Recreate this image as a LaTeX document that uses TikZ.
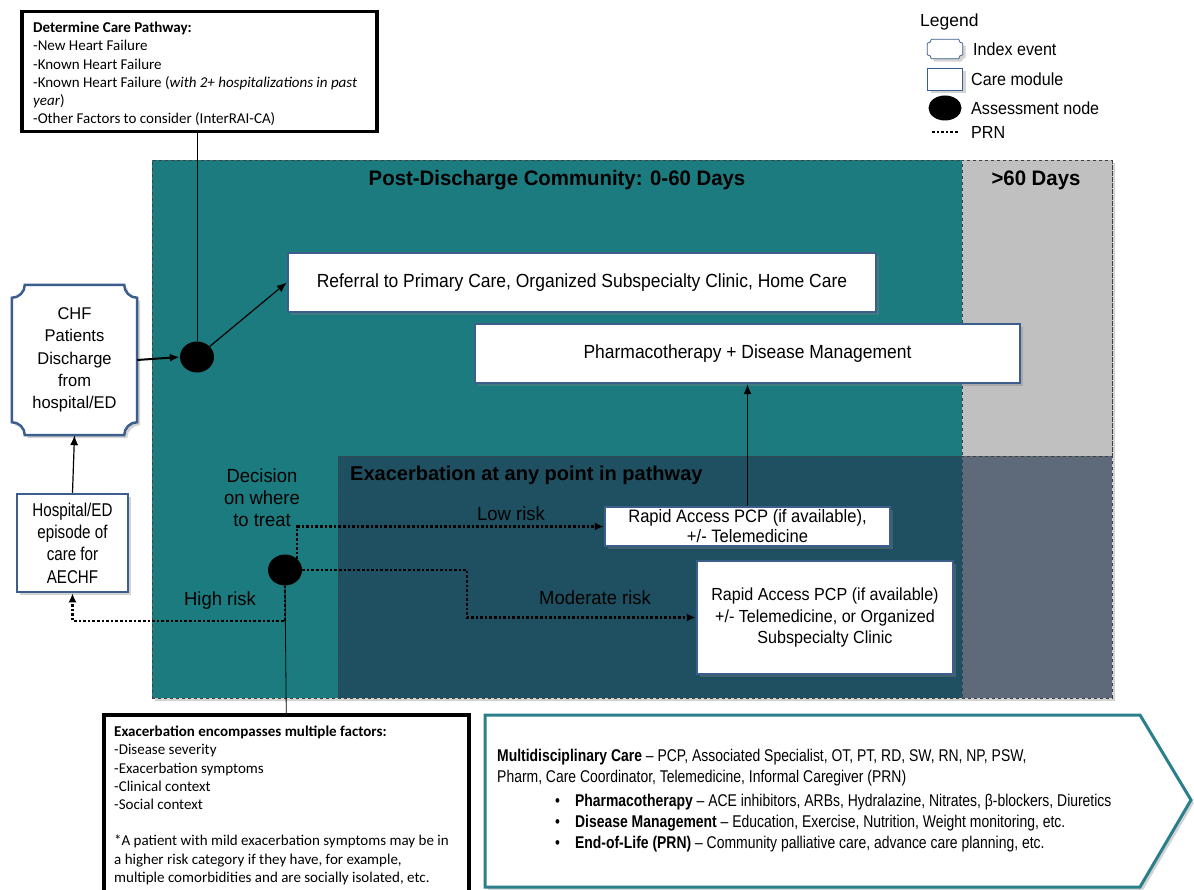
\documentclass[tikz,border=0pt]{standalone}
\usepackage{fontspec}
\setmainfont{Liberation Sans}
\newfontfamily\nA{Liberation Sans}[FakeStretch=0.82]
\newfontfamily\nB{Liberation Sans}[FakeStretch=0.92]
\newfontfamily\nC{Liberation Sans}[FakeStretch=0.97]
\newfontfamily\calfont{Carlito}
\usetikzlibrary{shadows,calc,arrows.meta,shapes.geometric}
\definecolor{tealbg}{HTML}{1B7B7F}
\definecolor{graybg}{HTML}{C0C0C0}
\definecolor{exbg}{HTML}{1E5061}
\definecolor{slatebg}{HTML}{5E6A7A}
\definecolor{boxblue}{HTML}{3B5E8C}
\definecolor{arrowteal}{HTML}{2A7F8A}
\newcommand{\myplaque}[3]{%
  \draw[#3] ([xshift=#2]#1.north west) -- ([xshift=-#2]#1.north east)
    .. controls ([xshift=-#2,yshift=-0.55*#2]#1.north east) and ([xshift=-0.55*#2,yshift=-#2]#1.north east) .. ([yshift=-#2]#1.north east)
    -- ([yshift=#2]#1.south east)
    .. controls ([xshift=-0.55*#2,yshift=#2]#1.south east) and ([xshift=-#2,yshift=0.55*#2]#1.south east) .. ([xshift=-#2]#1.south east)
    -- ([xshift=#2]#1.south west)
    .. controls ([xshift=#2,yshift=0.55*#2]#1.south west) and ([xshift=0.55*#2,yshift=#2]#1.south west) .. ([yshift=#2]#1.south west)
    -- ([yshift=-#2]#1.north west)
    .. controls ([xshift=0.55*#2,yshift=-#2]#1.north west) and ([xshift=#2,yshift=-0.55*#2]#1.north west) .. cycle;}
\begin{document}
\begin{tikzpicture}[x=1pt,y=-1pt,
  region/.style={draw=black!75, dashed, line width=0.7pt, anchor=north west, inner sep=0pt},
  softshadow/.style={drop shadow={shadow xshift=3pt,shadow yshift=-3pt,opacity=0.35}},
  module/.style={draw=boxblue, line width=2.5pt, fill=white, softshadow, align=center,
     font=\nB\fontsize{19}{22}\selectfont, inner sep=0pt},
  notebox/.style={draw=black, line width=3.5pt, fill=white, anchor=north west, inner sep=0pt},
  notetext/.style={anchor=north west, align=left, inner sep=0pt, font=\calfont\fontsize{15}{18.2}\selectfont},
  assess/.style={ellipse, fill=black, inner sep=0pt},
  lbl/.style={font=\nC\fontsize{19}{22}\selectfont, text=black, inner sep=0pt, align=center},
  prn/.style={dash pattern=on 2.6pt off 2pt, line width=2.6pt, -{Latex[length=9pt,width=8pt]}},
  arr/.style={line width=1.2pt, -{Latex[length=10pt,width=8pt]}},
  legtext/.style={font=\nB\fontsize{17.5}{20}\selectfont, anchor=west, inner sep=0pt},
]
\useasboundingbox (0,0) rectangle (1194,890);

% ---------- regions ----------
\node[region, fill=tealbg, softshadow, minimum width=960pt, minimum height=538pt] (all) at (152,160) {};
\node[region, fill=tealbg, minimum width=810pt, minimum height=538pt] (post) at (152,160) {};
\node[region, fill=graybg, minimum width=150pt, minimum height=296pt] (late) at (962,160) {};
\node[region, fill=exbg, minimum width=624pt, minimum height=242pt] (exreg) at (338,456) {};
\node[region, fill=slatebg, minimum width=150pt, minimum height=242pt] (exlate) at (962,456) {};

\node[font=\nC\bfseries\fontsize{21}{24}\selectfont, inner sep=0pt] (t1) at (557,180) {Post-Discharge Community: 0-60 Days};
\node[font=\nC\bfseries\fontsize{21}{24}\selectfont, inner sep=0pt] (t2) at (1036,180) {>60 Days};
\node[font=\bfseries\fontsize{20}{24}\selectfont, anchor=west, inner sep=0pt] (t3) at (350,475) {Exacerbation at any point in pathway};

% ---------- notes ----------
\node[notebox, minimum width=355pt, minimum height=120pt] (det) at (20,10) {};
\node[notetext] (dettext) at (33,22) {\textbf{Determine Care Pathway:}\\
-New Heart Failure\\
-Known Heart Failure\\
-Known Heart Failure (\textit{with 2+ hospitalizations in past}\\
\textit{year})\\
-Other Factors to consider (InterRAI-CA)};

\node[notebox, minimum width=365pt, minimum height=195pt] (exac) at (102,713) {};
\node[notetext] (exactext) at (114,726) {\textbf{Exacerbation encompasses multiple factors:}\\
-Disease severity\\
-Exacerbation symptoms\\
-Clinical context\\
-Social context\\[18.2pt]
*A patient with mild exacerbation symptoms may be in\\
a higher risk category if they have, for example,\\
multiple comorbidities and are socially isolated, etc.};

% ---------- modules ----------
\node[module, minimum width=588pt, minimum height=59pt] (ref) at (582,282.5) {Referral to Primary Care, Organized Subspecialty Clinic, Home Care};
\node[module, minimum width=545pt, minimum height=59pt] (pharm) at (747.5,353.5) {Pharmacotherapy + Disease Management};
\node[module, minimum width=285pt, minimum height=39pt, font=\nB\fontsize{18}{20}\selectfont] (low) at (747.5,526.5) {Rapid Access PCP (if available),\\+/- Telemedicine};
\node[module, minimum width=256pt, minimum height=113pt, font=\nB\fontsize{17.5}{21.5}\selectfont] (mod) at (825,617.5) {Rapid Access PCP (if available)\\+/- Telemedicine, or Organized\\Subspecialty Clinic};
\node[module, minimum width=111pt, minimum height=98pt, font=\nA\fontsize{18.5}{22.3}\selectfont] (hosp) at (72.5,543) {Hospital/ED\\episode of\\care for\\AECHF};

% index event
\node[minimum width=125pt, minimum height=150pt, inner sep=0pt] (chf) at (74.5,360) {};
\myplaque{chf}{13pt}{draw=boxblue, line width=2.5pt, fill=white, softshadow}
\node[lbl, font=\nC\fontsize{17}{22.3}\selectfont] (chftext) at (chf.center) {CHF\\Patients\\Discharge\\from\\hospital/ED};

% assessment nodes
\node[assess, minimum width=34pt, minimum height=31pt] (c1) at (197,357) {};
\node[assess, minimum width=34pt, minimum height=31pt] (c2) at (285,570) {};

% labels
\node[lbl] (dec) at (262,498) {Decision\\on where\\to treat};
\node[lbl] (lowl) at (511,514) {Low risk};
\node[lbl] (modl) at (595,598) {Moderate risk};
\node[lbl] (highl) at (220,601) {High risk};

% ---------- connectors ----------
\draw[line width=0.8pt] (det.south -| c1) -- (c1.north);
\draw[arr, line width=2pt] (chf.east) -- (c1.west);
\draw[arr] (c1) -- (ref.west);
\draw[arr] (hosp.north) -- (chf.south);
\draw[arr] (low.north) -- (pharm.south);
\draw[line width=0.8pt] (c2.south) -- (exac.north);

\coordinate (mbend) at (467,570);
\coordinate (hbend) at (285,621);
\draw[prn] (c2.north east) |- (low.west);
\draw[prn] (c2.east) -- (mbend) |- (mod.west);
\draw[prn] (c2.south) -- (hbend) -| (hosp.south);

% ---------- pentagon ----------
\coordinate (pa) at (485,715);
\coordinate (pb) at (1140,715);
\coordinate (pc) at (1191,800);
\coordinate (pd) at (1140,887);
\coordinate (pe) at (485,887);
\draw[arrowteal, line width=3pt, fill=white, softshadow] (pa) -- (pb) -- (pc) -- (pd) -- (pe) -- cycle;
\node[anchor=north west, align=left, inner sep=0pt, font=\nA\fontsize{17}{21}\selectfont] (mdc) at (497,749) {%
\textbf{Multidisciplinary Care} – PCP, Associated Specialist, OT, PT, RD, SW, RN, NP, PSW,\\
Pharm, Care Coordinator, Telemedicine, Informal Caregiver (PRN)\\[3pt]
\hspace*{58pt}•\hspace{15pt}\textbf{Pharmacotherapy} – ACE inhibitors, ARBs, Hydralazine, Nitrates, β-blockers, Diuretics\\
\hspace*{58pt}•\hspace{15pt}\textbf{Disease Management} – Education, Exercise, Nutrition, Weight monitoring, etc.\\
\hspace*{58pt}•\hspace{15pt}\textbf{End-of-Life (PRN)} – Community palliative care, advance care planning, etc.};

% ---------- legend ----------
\node[font=\fontsize{17.5}{20}\selectfont, anchor=west, inner sep=0pt] (leg) at (920,22) {Legend};
\node[minimum width=35pt, minimum height=19pt, inner sep=0pt] (legidx) at (945,49) {};
\myplaque{legidx}{4pt}{draw=boxblue, line width=0.8pt, fill=white, softshadow}
\node[legtext] (legidxt) at (973,49) {Index event};
\node[draw=boxblue, line width=0.8pt, fill=white, softshadow, minimum width=35pt, minimum height=22pt, inner sep=0pt] (legmod) at (945,79) {};
\node[legtext] (legmodt) at (971,79) {Care module};
\node[assess, minimum width=33pt, minimum height=25pt] (legass) at (945,108) {};
\node[legtext] (legasst) at (971,108) {Assessment node};
\coordinate (lp1) at (932,132);
\coordinate (lp2) at (958,132);
\draw[dash pattern=on 2.6pt off 2pt, line width=2.6pt] (lp1) -- (lp2);
\node[legtext] (legprn) at (971,132) {PRN};
\end{tikzpicture}
\end{document}
